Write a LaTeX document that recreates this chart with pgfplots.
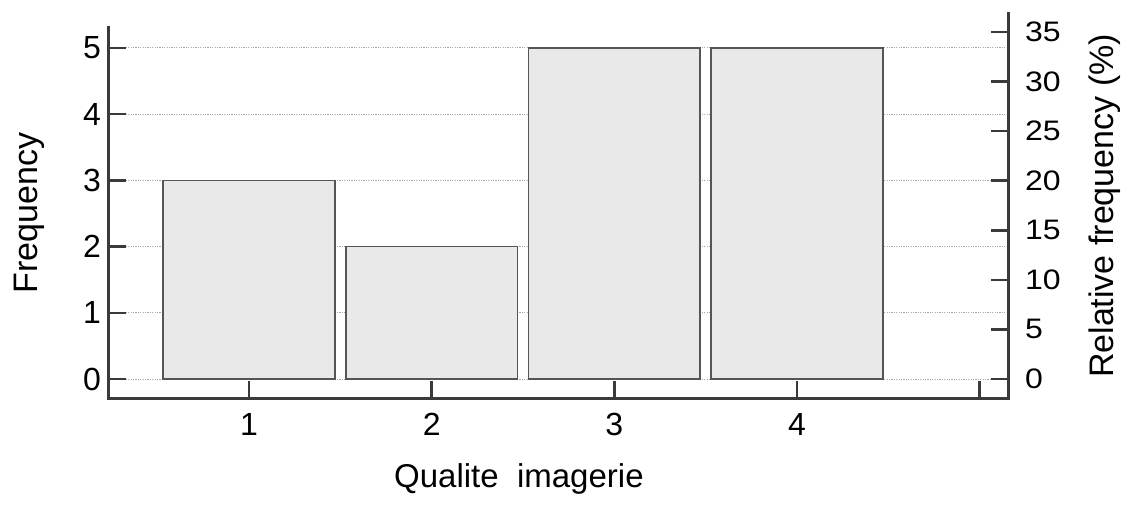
\documentclass[border=0pt]{standalone}
\usepackage{fontspec}
\setmainfont{Liberation Sans}
\usepackage{pgfplots}
\pgfplotsset{compat=1.18}
\definecolor{spine}{HTML}{3A3A3A}
\definecolor{barfill}{HTML}{E9E9E9}
\definecolor{bardraw}{HTML}{555555}
\definecolor{gridc}{HTML}{A8A8A8}
\begin{document}
\begin{tikzpicture}
\path[use as bounding box] (-54.5pt,-53pt) rectangle (510pt,199pt);
\begin{axis}[
  at={(0pt,0pt)}, anchor=south west,
  scale only axis, width=449.5pt, height=185pt,
  xmin=0.2336, xmax=5.155, ymin=-0.287, ymax=5.302,
  axis x line*=bottom, axis y line*=left,
  axis line style={draw=spine, line width=1.5pt, line cap=rect},
  xtick={1,2,3,4,5}, xticklabels={1,2,3,4,{}},
  ytick={0,1,2,3,4,5},
  tick align=inside, major tick length=8.5pt,
  tick style={draw=spine, line width=1.3pt},
  ymajorgrids, grid style={draw=gridc, line width=0.5pt, dash pattern=on 0.6pt off 0.6pt},
  /pgf/number format/assume math mode=true,
  ticklabel style={font=\fontsize{16}{19}\selectfont},
  xticklabel shift=4pt, yticklabel shift=0.5pt,
  xlabel={Qualite~~imagerie},
  xlabel style={font=\fontsize{16.5}{19}\selectfont, at={(axis description cs:0.456,-0.243)}, anchor=base},
  ylabel={Frequency},
  ylabel style={font=\fontsize{17}{20}\selectfont, at={(axis description cs:-0.080,0.5)}, anchor=base, rotate=0},
]
\addplot[ybar, bar shift=0pt, bar width=0.94, fill=barfill, draw=bardraw, line width=0.8pt]
  coordinates {(1,3) (2,2) (3,5) (4,5)};
\end{axis}
\begin{axis}[
  at={(0pt,0pt)}, anchor=south west,
  scale only axis, width=449.5pt, height=192pt,
  xmin=0.2336, xmax=5.155, ymin=-1.917, ymax=36.82,
  axis x line=none, axis y line*=right,
  axis line style={draw=spine, line width=1.5pt, line cap=rect},
  xtick=\empty,
  ytick={0,5,...,35},
  tick align=inside, major tick length=8.5pt,
  tick style={draw=spine, line width=1.3pt},
  /pgf/number format/assume math mode=true,
  yticklabel style={font=\fontsize{16}{19}\selectfont, yscale=0.88},
  yticklabel shift=5pt,
  ylabel={Relative frequency (\%)},
  ylabel style={font=\fontsize{17}{20}\selectfont, at={(axis description cs:1.1168,0.5)}, anchor=base, rotate=0},
]
\addplot[draw=none, forget plot] coordinates {(1,0)};
\end{axis}
\end{tikzpicture}
\end{document}
